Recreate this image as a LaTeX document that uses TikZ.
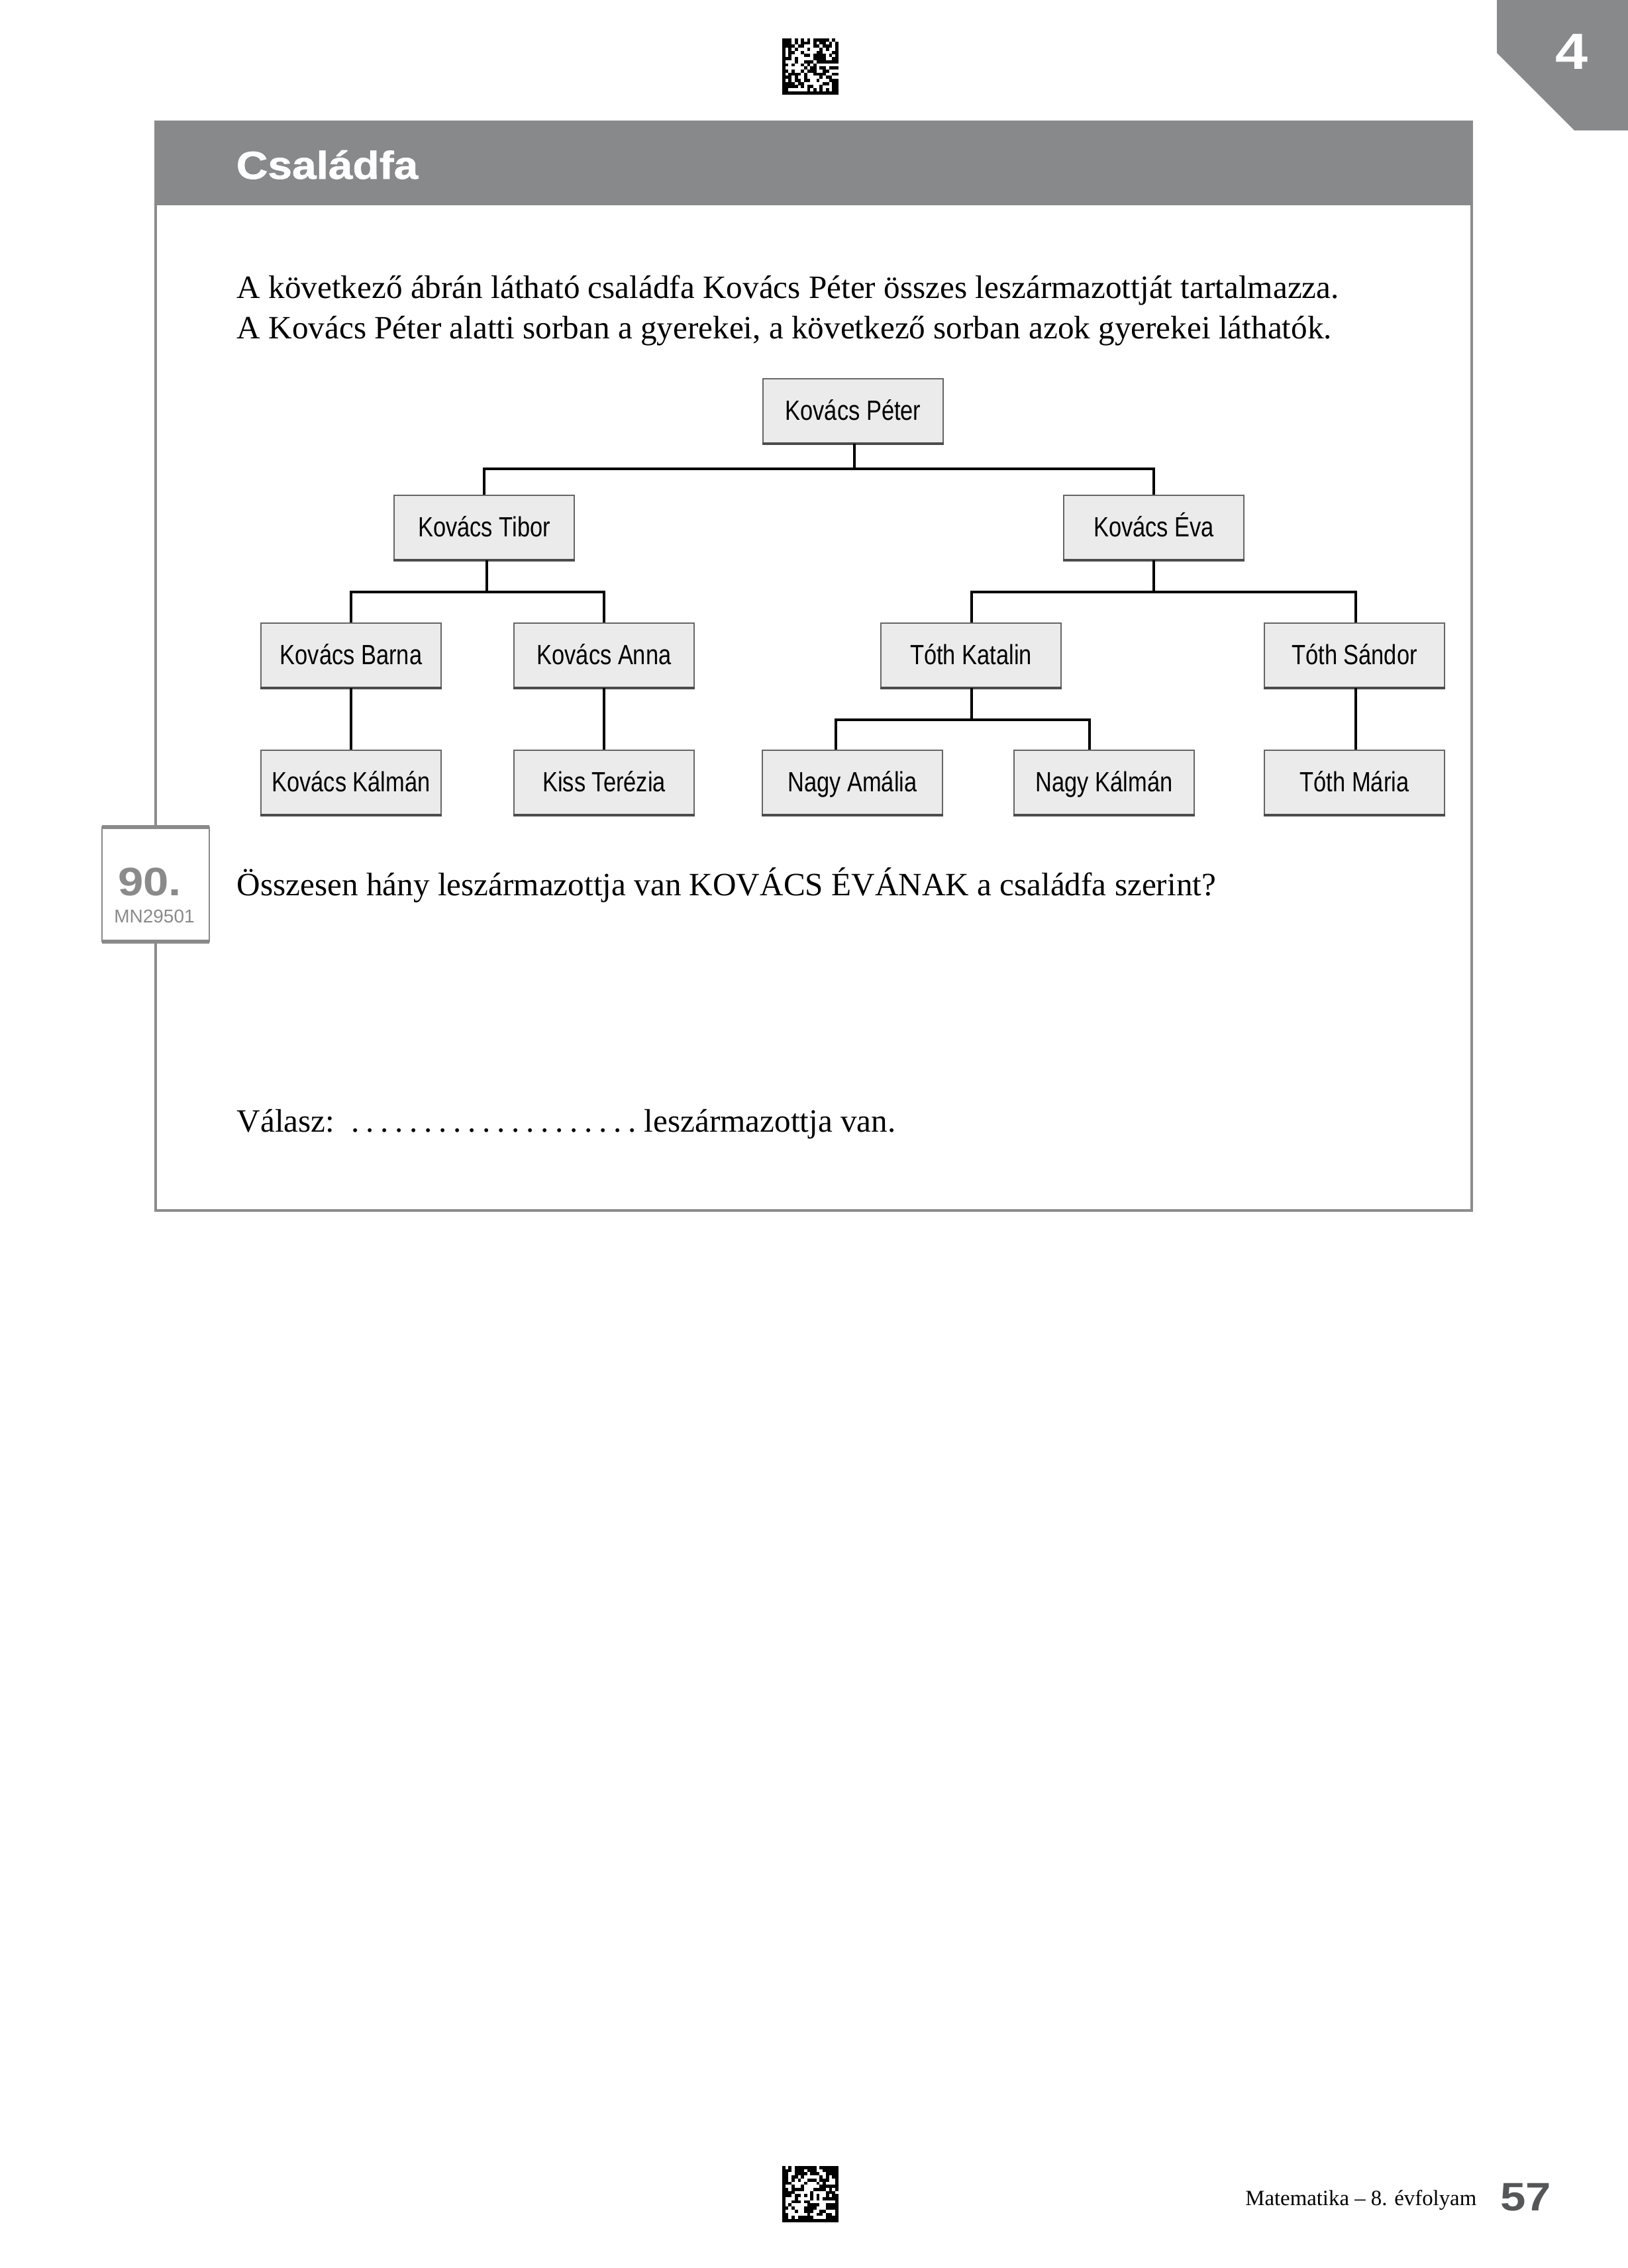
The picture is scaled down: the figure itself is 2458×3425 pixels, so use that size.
\documentclass[tikz,border=0pt]{standalone}
\usepackage{fontspec}
\setmainfont{Liberation Serif}
\newfontfamily\boxfont{Liberation Sans}[FakeStretch=0.82]
\newfontfamily\heavyfont{Liberation Sans}[FakeStretch=1.15]
\newfontfamily\titlefont{Liberation Sans}[FakeStretch=1.12,FakeBold=1.2]
\newfontfamily\plainsans{Liberation Sans}
\definecolor{bargray}{RGB}{136,137,139}
\definecolor{boxgray}{RGB}{235,235,235}
\definecolor{framegray}{RGB}{140,140,140}
\definecolor{numgray}{RGB}{138,138,138}
\definecolor{pagegray}{RGB}{85,86,88}
\newcommand\mydatamatrix[2]{%
  \foreach \i in {0,...,17}{
    \foreach \j in {0,...,17}{
      \pgfmathtruncatemacro\on{(\i==0) || (\j==17) || (\j==0 && mod(\i,2)==0) || (\i==17 && mod(\j,2)==1) || (rnd<0.5)}
      \ifnum\on=1 \fill[black] ({#1+\i*4.7},{#2+\j*4.7}) rectangle ++(4.75,4.75); \fi
    }}}
\newcommand\onedot{\makebox[5.5pt]{.}}
\newcommand\fivedots{\onedot\onedot\onedot\onedot\onedot}
\tikzset{
  person/.style={draw=black!60, fill=boxgray, line width=0.5pt, minimum width=68pt,
    minimum height=24.25pt, inner sep=0pt, text height=7.6pt, text depth=0.4pt,
    font=\boxfont\fontsize{10.5}{12}\selectfont},
  link/.style={line width=1pt, black},
  bodytext/.style={anchor=base west, inner sep=0pt, font=\fontsize{12.3}{15}\selectfont},
}
\begin{document}
\begin{tikzpicture}[x=0.25pt,y=-0.25pt]
\useasboundingbox (0,0) rectangle (2458,3425);
\fill[white] (0,0) rectangle (2458,3425);

% corner tab
\fill[bargray] (2260,0) -- (2260,80) -- (2377,197) -- (2458,197) -- (2458,0) -- cycle;
\node[anchor=base, inner sep=0pt, text=white, font=\heavyfont\bfseries\fontsize{19.2}{20}\selectfont] (tabnum) at (2373,105) {4};

% data matrix codes
\pgfmathsetseed{271}
\mydatamatrix{1181}{58}
\pgfmathsetseed{977}
\mydatamatrix{1181}{3271}

% frame and header
\draw[framegray, line width=0.8pt] (235,184) rectangle (2222,1828);
\fill[bargray] (235,184) rectangle (2222,310);
\node[anchor=base west, inner sep=0pt, text=white, font=\titlefont\bfseries\fontsize{14.7}{16}\selectfont] (title) at (356,270) {Családfa};

% intro text
\node[bodytext] (intro1) at (357,450) {A következő ábrán látható családfa Kovács Péter összes leszármazottját tartalmazza.};
\node[bodytext] (intro2) at (357,511) {A Kovács Péter alatti sorban a gyerekei, a következő sorban azok gyerekei láthatók.};

% tree nodes
\node[person] (peter) at (1288,620.5) {Kovács Péter};
\node[person] (tibor) at (731,796.5) {Kovács Tibor};
\node[person] (eva) at (1742,796.5) {Kovács Éva};
\node[person] (barna) at (530,989.5) {Kovács Barna};
\node[person] (anna) at (912,989.5) {Kovács Anna};
\node[person] (katalin) at (1466,989.5) {Tóth Katalin};
\node[person] (sandor) at (2045,989.5) {Tóth Sándor};
\node[person] (kkalman) at (530,1181.5) {Kovács Kálmán};
\node[person] (terezia) at (912,1181.5) {Kiss Terézia};
\node[person] (amalia) at (1287,1181.5) {Nagy Amália};
\node[person] (nkalman) at (1667,1181.5) {Nagy Kálmán};
\node[person] (maria) at (2045,1181.5) {Tóth Mária};
\foreach \n in {peter,tibor,eva,barna,anna,katalin,sandor,kkalman,terezia,amalia,nkalman,maria}{
  \draw[black!70, line width=0.9pt] (\n.south west) -- (\n.south east);
}

% connectors
\coordinate (j1) at (1290,708);
\coordinate (j2) at (735,894);
\coordinate (j3) at (1742,894);
\coordinate (j4) at (1467,1087);
\draw[link] ([xshift=0.5pt]peter.south) -- (j1);
\draw[link] (tibor.north) |- (j1) -| (eva.north);
\draw[link] ([xshift=1pt]tibor.south) -- (j2);
\draw[link] (barna.north) |- (j2) -| (anna.north);
\draw[link] (eva.south) -- (j3);
\draw[link] ([xshift=0.25pt]katalin.north) |- (j3) -| ([xshift=0.5pt]sandor.north);
\draw[link] (barna.south) -- (kkalman.north);
\draw[link] (anna.south) -- (terezia.north);
\draw[link] ([xshift=0.25pt]katalin.south) -- (j4);
\draw[link] ([xshift=-6.25pt]amalia.north) |- (j4) -| ([xshift=-5.5pt]nkalman.north);
\draw[link] ([xshift=0.5pt]sandor.south) -- ([xshift=0.5pt]maria.north);

% question number box
\draw[fill=white, draw=numgray, line width=0.6pt] (154,1249) rectangle (316,1422);
\draw[numgray, line width=1.3pt] (154,1249) -- (316,1249);
\draw[numgray, line width=1.3pt] (154,1422) -- (316,1422);
\node[anchor=base, inner sep=0pt, text=numgray, font=\heavyfont\bfseries\fontsize{15}{16}\selectfont] (qnum) at (226,1352) {90.};
\node[anchor=base, inner sep=0pt, text=numgray, font=\plainsans\fontsize{7}{8}\selectfont] (qcode) at (233,1393) {MN29501};

% question and answer
\node[bodytext] (question) at (357,1352) {Összesen hány leszármazottja van KOVÁCS ÉVÁNAK a családfa szerint?};
\node[bodytext] (answer) at (357,1709) {Válasz:};
\node[bodytext] (dots) at (525,1709) {\fivedots\fivedots\fivedots\fivedots};
\node[bodytext] (answer2) at (972,1709) {leszármazottja van.};

% footer
\node[anchor=base east, inner sep=0pt, font=\fontsize{8.2}{10}\selectfont] (footer) at (2230,3330) {Matematika – 8. évfolyam};
\node[anchor=base east, inner sep=0pt, text=pagegray, font=\heavyfont\bfseries\fontsize{15}{16}\selectfont] (pagenum) at (2343,3338) {57};
\end{tikzpicture}
\end{document}
